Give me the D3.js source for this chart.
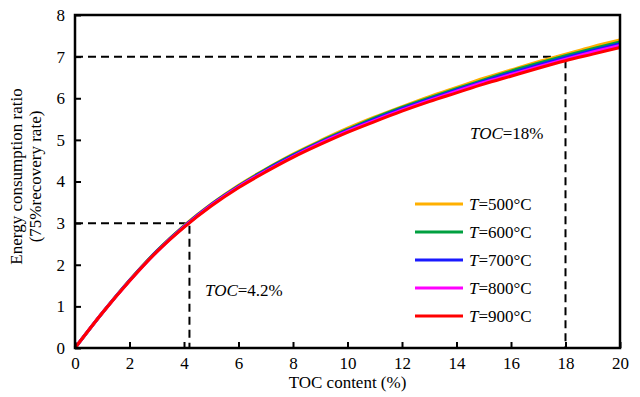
<!DOCTYPE html>
<html>
<head>
<meta charset="utf-8">
<script src="https://cdn.jsdelivr.net/npm/d3@7"></script>
</head>
<body style="margin:0;background:#fff">
<div id="chart"></div>
<script>
var width = 640,
    height = 397;
var margin = {top: 15, right: 20, bottom: 49, left: 75};

// TOC content (%)
var toc = [0,1,2,3,4,5,6,7,8,9,10,11,12,13,14,15,16,17,18,19,20];
var t500 = [0,0.84,1.63,2.33,2.94,3.46,3.91,4.30,4.66,4.98,5.28,5.55,5.80,6.04,6.26,6.48,6.68,6.88,7.06,7.24,7.40];
var t600 = [0,0.84,1.62,2.33,2.93,3.45,3.89,4.29,4.64,4.96,5.25,5.53,5.78,6.01,6.23,6.44,6.65,6.84,7.02,7.19,7.35];
var t700 = [0,0.84,1.62,2.32,2.92,3.44,3.88,4.27,4.62,4.94,5.23,5.50,5.75,5.98,6.20,6.41,6.61,6.80,6.98,7.15,7.31];
var t800 = [0,0.84,1.61,2.31,2.91,3.43,3.87,4.25,4.60,4.92,5.21,5.47,5.72,5.95,6.17,6.38,6.57,6.76,6.94,7.11,7.27];
var t900 = [0,0.84,1.61,2.31,2.90,3.41,3.85,4.23,4.58,4.89,5.18,5.44,5.69,5.92,6.13,6.34,6.53,6.72,6.90,7.06,7.22];
var seriesNames = ["500", "600", "700", "800", "900"];
var seriesColors = ["#ffb000", "#00a040", "#1a1aff", "#ff00ff", "#ff0000"];
var xTicks = [0,2,4,6,8,10,12,14,16,18,20];
var yTicks = [0,1,2,3,4,5,6,7,8];
// marked points
var marks = [{x: 4.2, y: 3, label: "=4.2%"}, {x: 18, y: 7, label: "=18%"}];

var series = [t500, t600, t700, t800, t900].map(function(vals, i) {
  return {name: seriesNames[i], color: seriesColors[i],
          values: vals.map(function(v, j) { return {x: toc[j], y: v}; })};
});

var svg = d3.select("#chart").append("svg")
    .attr("width", width)
    .attr("height", height);

var x = d3.scaleLinear().domain([0, 20]).range([margin.left, width - margin.right]);
var y = d3.scaleLinear().domain([0, 8]).range([height - margin.bottom, margin.top]);

// dashed guides
var guides = svg.append("g")
    .attr("stroke", "#000")
    .attr("stroke-width", 2)
    .attr("stroke-dasharray", "8,5")
    .attr("fill", "none");
marks.forEach(function(m) {
  guides.append("path")
    .attr("d", "M" + x(0) + "," + y(m.y) + "H" + x(m.x) + "V" + y(0));
});

// curves
var line = d3.line()
    .x(function(d) { return x(d.x); })
    .y(function(d) { return y(d.y); })
    .curve(d3.curveMonotoneX);
svg.append("g")
  .selectAll("path")
  .data(series)
  .enter().append("path")
    .attr("fill", "none")
    .attr("stroke", function(d) { return d.color; })
    .attr("stroke-width", 3)
    .attr("d", function(d) { return line(d.values); });

// frame + axes
svg.append("rect")
    .attr("x", x(0)).attr("y", y(8))
    .attr("width", x(20) - x(0)).attr("height", y(0) - y(8))
    .attr("fill", "none").attr("stroke", "#000").attr("stroke-width", 2.5);

var xAxis = svg.append("g")
    .attr("transform", "translate(0," + y(0) + ")")
    .call(d3.axisBottom(x).tickValues(xTicks).tickSizeInner(-6).tickSizeOuter(0).tickPadding(9));
var yAxis = svg.append("g")
    .attr("transform", "translate(" + x(0) + ",0)")
    .call(d3.axisLeft(y).tickValues(yTicks).tickSizeInner(-6).tickSizeOuter(0).tickPadding(10));
[xAxis, yAxis].forEach(function(a) {
  a.select(".domain").remove();
  a.selectAll(".tick line").attr("stroke-width", 2);
  a.selectAll("text").style("font-size", "17px");
});

// axis titles
svg.append("text")
    .attr("x", (x(0) + x(20)) / 2).attr("y", 388)
    .attr("text-anchor", "middle")
    .style("font-size", "17px")
    .text("TOC content (%)");
var yt = svg.append("text")
    .attr("transform", "translate(22," + ((y(0) + y(8)) / 2 - 5) + ") rotate(-90)")
    .attr("text-anchor", "middle")
    .style("font-size", "17px");
yt.append("tspan").attr("x", 0).attr("dy", 0).text("Energy consumption ratio");
yt.append("tspan").attr("x", 0).attr("dy", 19).text("(75%recovery rate)");

// annotations
var ann = [{x: 205, y: 296, text: marks[0].label}, {x: 470, y: 139, text: marks[1].label}];
ann.forEach(function(a) {
  var t = svg.append("text").attr("x", a.x).attr("y", a.y).style("font-size", "17px");
  t.append("tspan").style("font-style", "italic").text("TOC");
  t.append("tspan").text(a.text);
});

// legend
var legend = svg.append("g").selectAll("g")
    .data(series)
    .enter().append("g")
    .attr("transform", function(d, i) { return "translate(415," + (204 + i * 28) + ")"; });
legend.append("line")
    .attr("x1", 0).attr("x2", 48)
    .attr("stroke", function(d) { return d.color; })
    .attr("stroke-width", 3);
var lt = legend.append("text")
    .attr("x", 54).attr("y", 6)
    .style("font-size", "17px");
lt.append("tspan").style("font-style", "italic").text("T");
lt.append("tspan").text(function(d) { return "=" + d.name + "°C"; });

svg.selectAll("text").style("font-family", "'Liberation Serif'").style("fill", "#000");
</script>
</body>
</html>
